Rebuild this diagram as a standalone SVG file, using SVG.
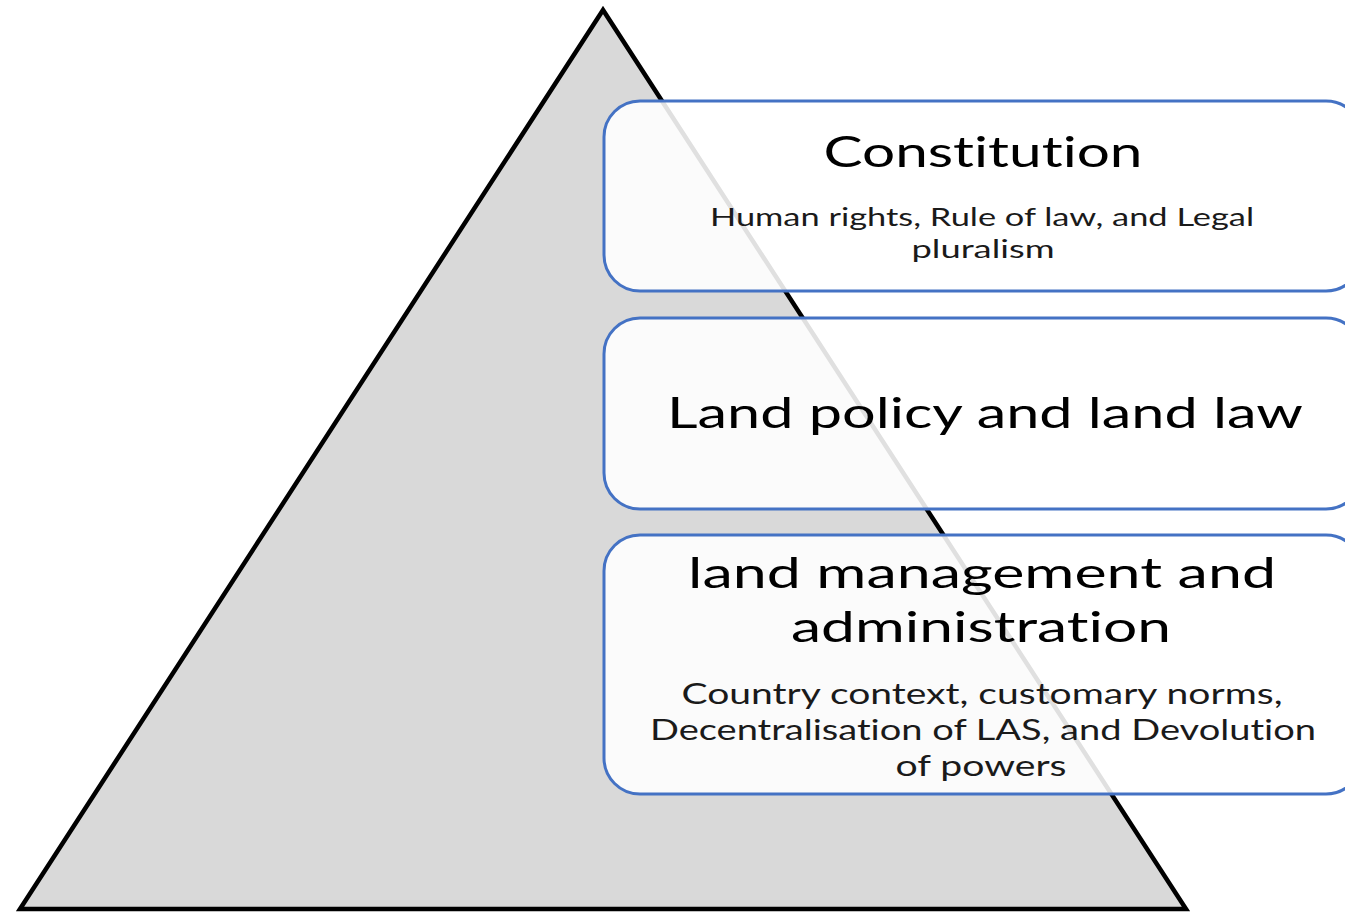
<svg xmlns="http://www.w3.org/2000/svg" width="1345" height="913" viewBox="0 0 1345 913">
<style>
.box{fill:#ffffff;fill-opacity:0.88;stroke:#4472c4;stroke-width:3}
.t{font-family:Lato,"Open Sans","Liberation Sans",sans-serif;text-anchor:middle;fill:#000;font-variant-ligatures:none}
.h{font-size:43px}
.s{font-size:25px;fill:#1a1a1a}
.m{font-size:28px;fill:#1a1a1a}
</style>
<rect width="1345" height="913" fill="#ffffff"/>
<g id="pyramid">
<polygon points="603,10 20,909 1186,909" fill="#d9d9d9" stroke="#000" stroke-width="4.5" stroke-linejoin="miter"/>
</g>
<g id="connectors"></g>
<g id="constitution">
<rect class="box" x="604" y="101" width="758" height="190" rx="36" ry="36"/>
<text class="t h" x="983" y="167" textLength="319" lengthAdjust="spacingAndGlyphs">Constitution</text>
<text class="t s" x="982" y="226" textLength="544" lengthAdjust="spacingAndGlyphs">Human rights, Rule of law, and Legal</text>
<text class="t s" x="983" y="258" textLength="143" lengthAdjust="spacingAndGlyphs">pluralism</text>
</g>
<g id="land-policy">
<rect class="box" x="604" y="318" width="758" height="191" rx="36" ry="36"/>
<text class="t h" x="985" y="428" textLength="636" lengthAdjust="spacingAndGlyphs">Land policy and land law</text>
</g>
<g id="land-management">
<rect class="box" x="604" y="535" width="758" height="259" rx="36" ry="36"/>
<text class="t h" x="982" y="588" textLength="588" lengthAdjust="spacingAndGlyphs">land management and</text>
<text class="t h" x="981" y="642" textLength="380" lengthAdjust="spacingAndGlyphs">administration</text>
<text class="t m" x="982" y="704" textLength="601" lengthAdjust="spacingAndGlyphs">Country context, customary norms,</text>
<text class="t m" x="983" y="740" textLength="666" lengthAdjust="spacingAndGlyphs">Decentralisation of LAS, and Devolution</text>
<text class="t m" x="981" y="776" textLength="171" lengthAdjust="spacingAndGlyphs">of powers</text>
</g>
</svg>
